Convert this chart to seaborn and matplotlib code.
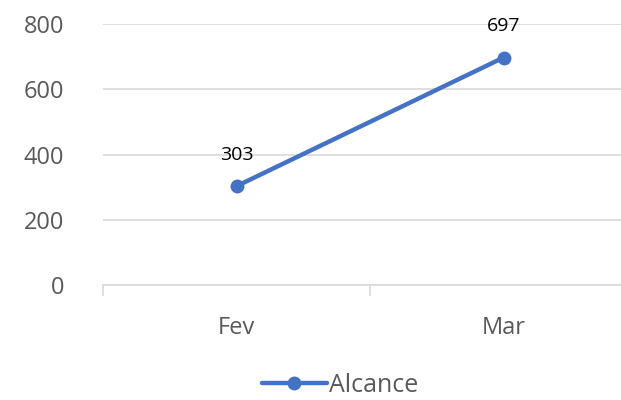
import numpy as np
import pandas as pd
import matplotlib
matplotlib.use('Agg')
import matplotlib.pyplot as plt
import seaborn as sns
from matplotlib.ticker import FixedLocator

months = ['Fev', 'Mar']
alcance = [303, 697]
yticks = [0, 200, 400, 600, 800]

sns.set_style('white')
plt.rcParams['font.family'] = ['Open Sans', 'DejaVu Sans']

blue = '#4472C4'
grey = '#595959'

fig = plt.figure(figsize=(6.21, 4), dpi=100)
ax = fig.add_axes([103 / 621, 115 / 400, 534 / 621, 261 / 400])

df = pd.DataFrame({'mes': months, 'Alcance': alcance})
sns.lineplot(data=df, x='mes', y='Alcance', ax=ax, color=blue, linewidth=3.2,
             marker='o', markersize=10, markeredgewidth=0, label='Alcance', sort=False)

for i, v in enumerate(alcance):
  ax.annotate(str(v), (i, v), xytext=(0, 16), textcoords='offset points',
              ha='center', va='bottom', fontsize=14, color='black')

ax.set_xlim(-0.5, 1.5)
ax.set_ylim(0, 800)
ax.set_yticks(yticks)
ax.yaxis.grid(True, color='#d9d9d9', linewidth=1.2)
ax.set_axisbelow(True)
for side in ['top', 'right', 'left']:
  ax.spines[side].set_visible(False)
ax.spines['bottom'].set_color('#d9d9d9')
ax.spines['bottom'].set_linewidth(1.2)

ax.set_xticks(range(len(months)))
ax.set_xticklabels(months)
ax.xaxis.set_minor_locator(FixedLocator([-0.5, 0.5, 1.5]))
ax.tick_params(axis='x', which='major', bottom=False, length=0, pad=22, labelsize=17, labelcolor=grey)
ax.tick_params(axis='x', which='minor', bottom=True, length=8, width=1.2, color='#d9d9d9')
ax.tick_params(axis='y', length=0, pad=28, labelsize=17, labelcolor=grey)
ax.set_xlabel('')
ax.set_ylabel('')

leg = ax.legend(loc='center', bbox_to_anchor=(340 / 621, 15 / 400),
                bbox_transform=fig.transFigure, frameon=False, fontsize=18,
                handlelength=2.6, handletextpad=0.1)
for t in leg.get_texts():
  t.set_color(grey)

fig.savefig('out.png', dpi=100)
